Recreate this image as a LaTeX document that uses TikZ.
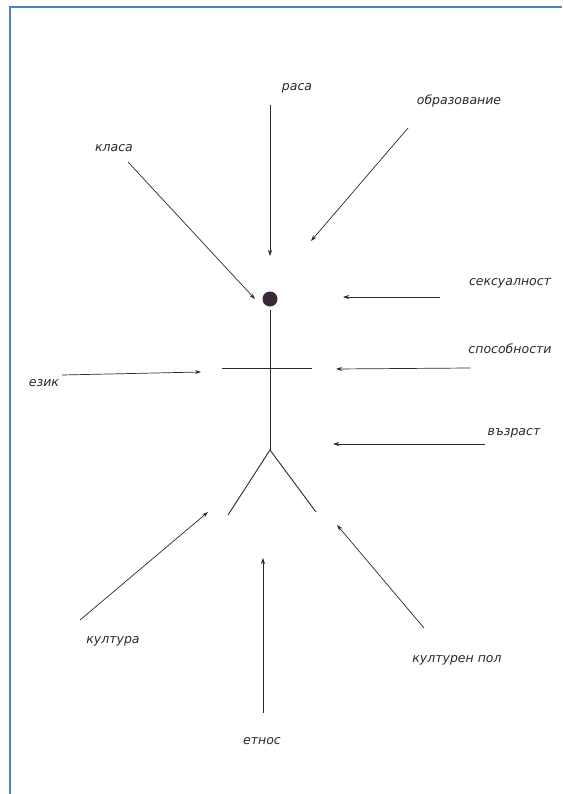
\documentclass[tikz,border=0pt]{standalone}
\usepackage{fontspec}
\setmainfont{DejaVu Sans}
\usetikzlibrary{arrows.meta, positioning}
\definecolor{frameblue}{HTML}{4F81BD}
\definecolor{ink}{HTML}{2A2A2A}
\definecolor{headink}{HTML}{3A2A38}

\begin{document}
\begin{tikzpicture}[
  x=1pt, y=-1pt,
  >={Stealth[length=6pt, width=4pt]},
  arr/.style={->, line width=0.7pt, ink},
  limb/.style={line width=0.9pt, ink},
  lbl/.style={font=\fontsize{12.5}{14}\selectfont\itshape, text=ink, inner sep=1pt},
]

% Page and frame
\useasboundingbox (0,0) rectangle (562,794);
\fill[white] (0,0) rectangle (562,794);
\draw[frameblue, line width=2pt] (10,794) -- (10,7) -- (562,7);

% =============================================
% Figure
% =============================================
\node[circle, fill=headink, minimum size=15pt, inner sep=0pt] (head) at (270,299) {};
\coordinate (neck) at (270,310);
\coordinate (hip) at (270,450);
\coordinate (arm-l) at (222,368);
\coordinate (arm-r) at (312,368);
\coordinate (foot-l) at (228,515);
\coordinate (foot-r) at (316,512);

\draw[limb] (neck) -- (hip);
\draw[limb] (arm-l) -- (arm-r);
\draw[limb] (foot-l) -- (hip) -- (foot-r);

% =============================================
% Labels
% =============================================
\node[lbl] (rasa) at (297,88) {раса};
\node[lbl] (obraz) at (459,101) {образование};
\node[lbl] (klasa) at (114,148) {класа};
\node[lbl] (seks) at (510,283) {сексуалност};
\node[lbl] (spos) at (510,349) {способности};
\node[lbl] (ezik) at (44,383) {език};
\node[lbl] (vazr) at (514,433) {възраст};
\node[lbl] (kult) at (113,641) {култура};
\node[lbl] (pol) at (457,660) {културен пол};
\node[lbl] (etnos) at (262,741) {етнос};

% =============================================
% Arrow ends
% =============================================
\coordinate (rasa-s) at (270,105);  \coordinate (rasa-e) at (270,256);
\coordinate (obraz-s) at (408,128); \coordinate (obraz-e) at (311,241);
\coordinate (klasa-s) at (128,162); \coordinate (klasa-e) at (255,299);
\coordinate (seks-s) at (440,297);  \coordinate (seks-e) at (343,297);
\coordinate (spos-s) at (470,368);  \coordinate (spos-e) at (336,369);
\coordinate (ezik-s) at (62,375);   \coordinate (ezik-e) at (201,372);
\coordinate (vazr-s) at (485,444);  \coordinate (vazr-e) at (333,444);
\coordinate (kult-s) at (80,620);   \coordinate (kult-e) at (208,512);
\coordinate (pol-s) at (424,628);   \coordinate (pol-e) at (337,525);
\coordinate (etnos-s) at (263,713); \coordinate (etnos-e) at (263,558);

% =============================================
% Arrows
% =============================================
\draw[arr] (rasa-s) -- (rasa-e);
\draw[arr] (obraz-s) -- (obraz-e);
\draw[arr] (klasa-s) -- (klasa-e);
\draw[arr] (seks-s) -- (seks-e);
\draw[arr] (spos-s) -- (spos-e);
\draw[arr] (ezik-s) -- (ezik-e);
\draw[arr] (vazr-s) -- (vazr-e);
\draw[arr] (kult-s) -- (kult-e);
\draw[arr] (pol-s) -- (pol-e);
\draw[arr] (etnos-s) -- (etnos-e);

\end{tikzpicture}
\end{document}
